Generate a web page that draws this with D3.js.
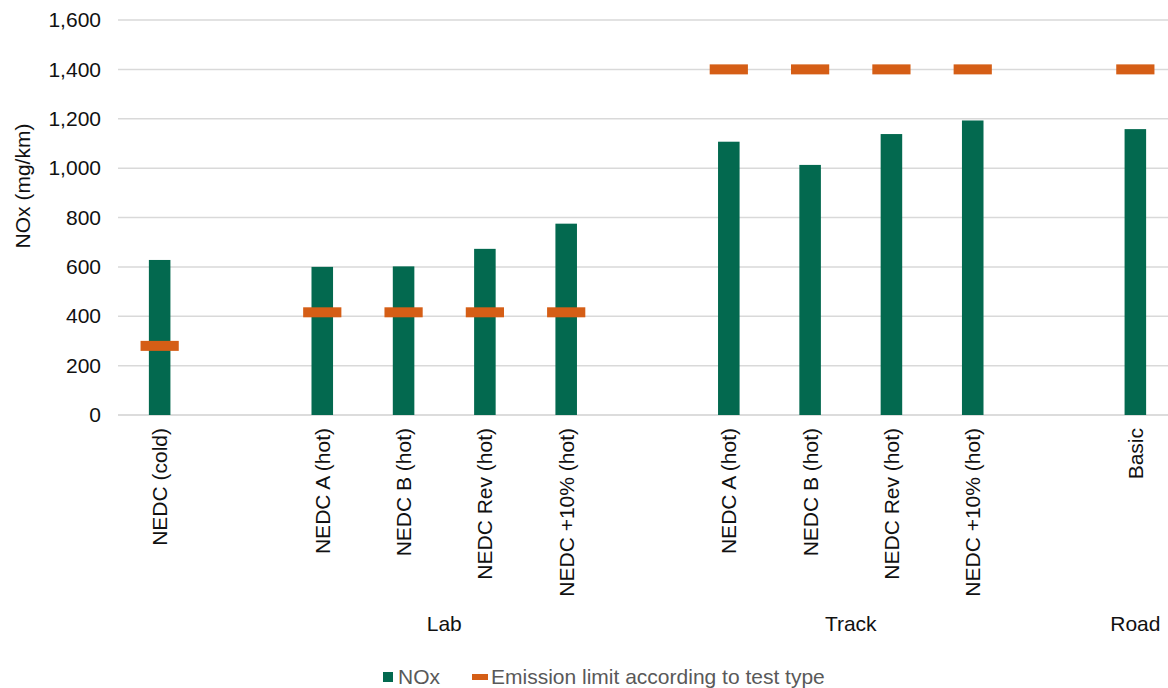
<!DOCTYPE html>
<html>
<head>
<meta charset="utf-8">
<script src="https://cdn.jsdelivr.net/npm/d3@7"></script>
<style>
  html, body { margin: 0; padding: 0; background: #fff; }
  svg { display: block; font-family: "Liberation Sans", Arial, sans-serif; }
</style>
</head>
<body>
<svg id="chart" width="1168" height="688"></svg>
<script>
// ---- data ----
const categories = ["NEDC (cold)", "", "NEDC A (hot)", "NEDC B (hot)", "NEDC Rev (hot)", "NEDC +10% (hot)", "",
                    "NEDC A (hot)", "NEDC B (hot)", "NEDC Rev (hot)", "NEDC +10% (hot)", "", "Basic"];
const noxValues = [628, null, 600, 602, 673, 775, null, 1107, 1013, 1138, 1193, null, 1158];
const limitValues = [280, null, 416, 416, 416, 416, null, 1400, 1400, 1400, 1400, null, 1400];
const groupNames = ["Lab", "Track", "Road"];
const groupStart = [1, 7, 12];
const groupEnd = [6, 10, 12];
const yTicks = [0, 200, 400, 600, 800, 1000, 1200, 1400, 1600];
const yTitle = "NOx (mg/km)";
const legendLabels = ["NOx", "Emission limit according to test type"];

// ---- layout ----
const svg = d3.select("#chart");
const mLeft = 118, mRight = 1176, mTop = 20, mBottom = 415;
const green = "#03694f", orange = "#d55e16";
const fs = 21;

const x = d3.scaleBand().domain(d3.range(categories.length)).range([mLeft + 1, mRight]).padding(0);
const y = d3.scaleLinear().domain([0, 1600]).range([mBottom, mTop]);
const barW = x.bandwidth() * 0.265;
const markW = x.bandwidth() * 0.47;
const markH = 10;
const cx = i => x(i) + x.bandwidth() / 2;

// gridlines
svg.append("g").selectAll("line").data(yTicks).join("line")
  .attr("x1", mLeft).attr("x2", 1168)
  .attr("y1", d => y(d)).attr("y2", d => y(d))
  .attr("stroke", d => d === 0 ? "#d0d0d0" : "#d9d9d9").attr("stroke-width", 1.5);

// y axis labels
const yAxis = d3.axisLeft(y).tickValues(yTicks).tickFormat(d3.format(",")).tickSize(0).tickPadding(17);
const ya = svg.append("g").attr("transform", `translate(${mLeft},0)`).call(yAxis);
ya.select(".domain").remove();
ya.selectAll("text").attr("font-size", fs).attr("fill", "#111").attr("font-family", "Liberation Sans, Arial, sans-serif");

// y title
svg.append("text").attr("transform", `translate(30,186) rotate(-90)`)
  .attr("text-anchor", "middle").attr("font-size", fs).attr("fill", "#111").text(yTitle);

// bars
svg.append("g").selectAll("rect").data(noxValues.map((v, i) => ({v, i})).filter(d => d.v != null)).join("rect")
  .attr("x", d => cx(d.i) - barW / 2).attr("width", barW)
  .attr("y", d => y(d.v)).attr("height", d => y(0) - y(d.v))
  .attr("fill", green);

// limit markers
svg.append("g").selectAll("rect").data(limitValues.map((v, i) => ({v, i})).filter(d => d.v != null)).join("rect")
  .attr("x", d => cx(d.i) - markW / 2).attr("width", markW)
  .attr("y", d => y(d.v) - markH / 2).attr("height", markH)
  .attr("fill", orange);

// category labels
svg.append("g").selectAll("text").data(categories.map((c, i) => ({c, i})).filter(d => d.c)).join("text")
  .attr("transform", d => `translate(${cx(d.i) + 7.5},428) rotate(-90)`)
  .attr("text-anchor", "end").attr("font-size", fs).attr("fill", "#111").text(d => d.c);

// group labels
svg.append("g").selectAll("text").data(groupNames.map((g, k) => ({g, k}))).join("text")
  .attr("x", d => (cx(groupStart[d.k]) + cx(groupEnd[d.k])) / 2)
  .attr("y", 631).attr("text-anchor", "middle").attr("font-size", fs).attr("fill", "#111")
  .text(d => d.g);

// legend
const lg = svg.append("g");
lg.append("rect").attr("x", 383).attr("y", 672).attr("width", 10).attr("height", 10).attr("fill", green);
lg.append("text").attr("x", 398).attr("y", 684).attr("font-size", fs).attr("fill", "#595959").text(legendLabels[0]);
lg.append("rect").attr("x", 472).attr("y", 674).attr("width", 16).attr("height", 6).attr("fill", orange);
lg.append("text").attr("x", 491).attr("y", 684).attr("font-size", fs).attr("fill", "#595959").text(legendLabels[1]);
</script>
</body>
</html>
